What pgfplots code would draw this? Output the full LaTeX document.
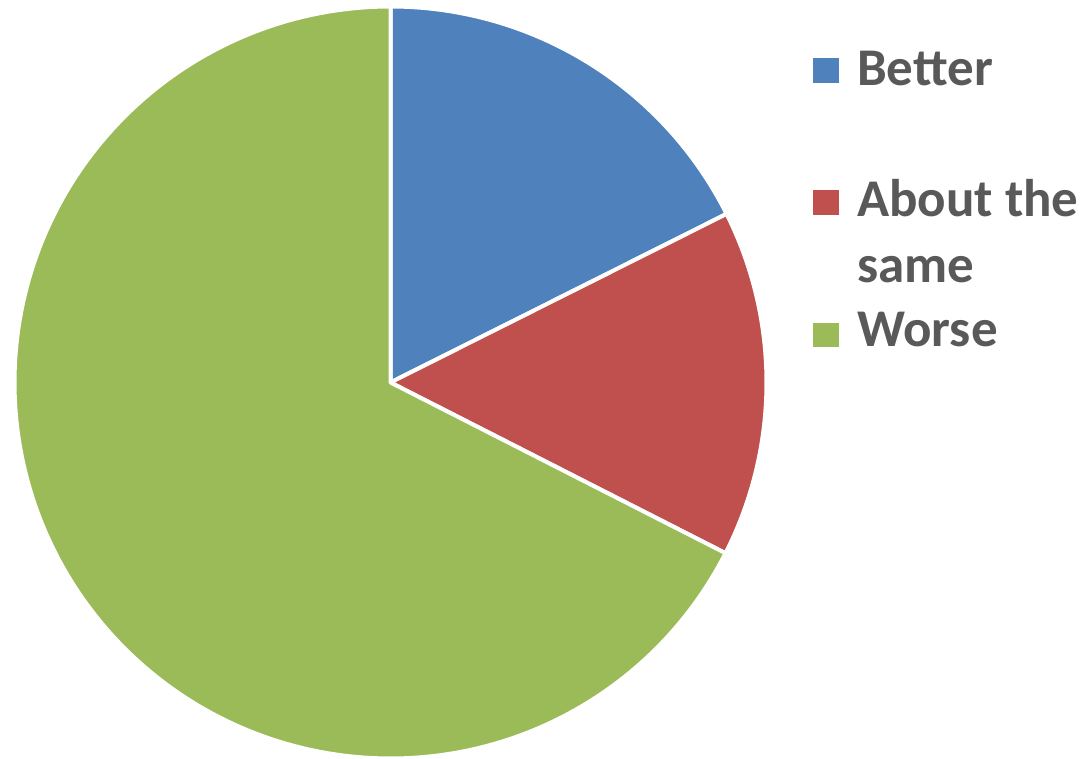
\documentclass[border=0pt]{standalone}
\usepackage{pgfplots}
\pgfplotsset{compat=1.18}
\usepackage{fontspec}
\setmainfont{Carlito}
\definecolor{cBetter}{HTML}{4F81BD}
\definecolor{cSame}{HTML}{C0504D}
\definecolor{cWorse}{HTML}{9BBB59}
\definecolor{txt}{HTML}{595959}
\begin{document}
\begin{tikzpicture}
\useasboundingbox (0pt,0pt) rectangle (1082pt,758pt);
% data (percent)
\def\vBetter{17.6}
\def\vSame{14.9}
\def\vWorse{67.5}
\pgfmathsetmacro{\aA}{90}
\pgfmathsetmacro{\aB}{\aA-3.6*\vBetter}
\pgfmathsetmacro{\aC}{\aB-3.6*\vSame}
\pgfmathsetmacro{\aD}{\aC-3.6*\vWorse}
\begin{axis}[
  scale only axis, width=752pt, height=752pt,
  xmin=-1, xmax=1, ymin=-1, ymax=1,
  hide axis, clip=false,
  at={(390.5pt,375.5pt)}, anchor=center,
]
\addplot[fill=cBetter, draw=white, line width=4pt, line join=round, domain=\aB:\aA, samples=120, variable=\t] ({cos(\t)},{sin(\t)}) -- (axis cs:0,0) -- cycle;
\addplot[fill=cSame, draw=white, line width=4pt, line join=round, domain=\aC:\aB, samples=120, variable=\t] ({cos(\t)},{sin(\t)}) -- (axis cs:0,0) -- cycle;
\addplot[fill=cWorse, draw=white, line width=4pt, line join=round, domain=\aD:\aC, samples=240, variable=\t] ({cos(\t)},{sin(\t)}) -- (axis cs:0,0) -- cycle;
\end{axis}
% legend
\fill[cBetter] (813pt,675pt) rectangle (839pt,700pt);
\fill[cSame] (813pt,543pt) rectangle (839pt,568pt);
\fill[cWorse] (813pt,411pt) rectangle (839pt,435pt);
\begin{scope}[every node/.style={inner sep=0pt, anchor=base west, text=txt, font=\fontsize{53pt}{66pt}\selectfont\bfseries}]
\node at (857pt,672pt) {Better};
\node at (857pt,541pt) {About the};
\node at (857pt,475pt) {same};
\node at (857pt,411pt) {Worse};
\end{scope}
\end{tikzpicture}
\end{document}
